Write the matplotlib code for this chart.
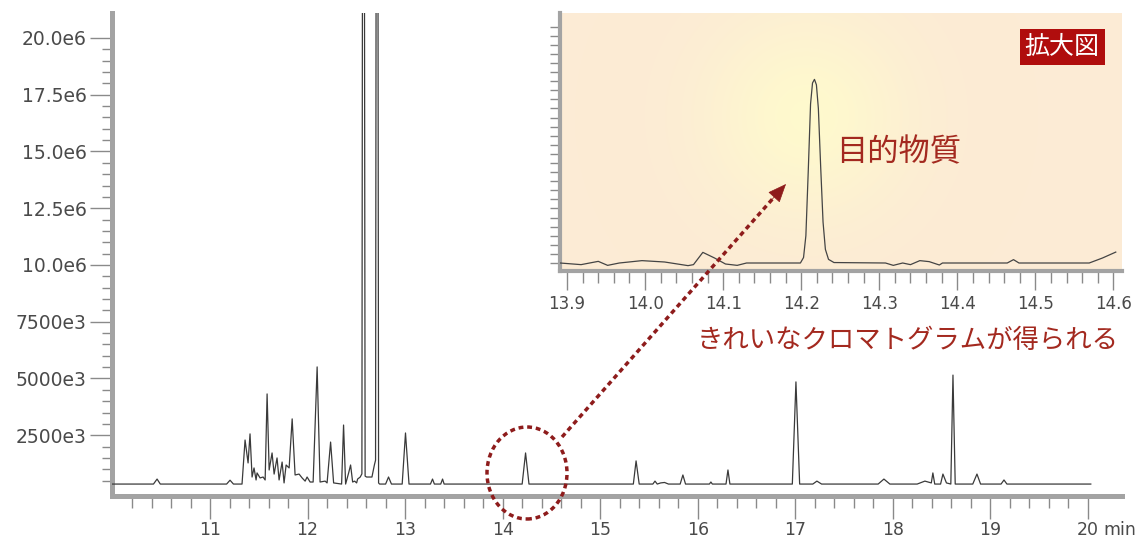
import numpy as np
import matplotlib
matplotlib.use("Agg")
import matplotlib.pyplot as plt
from matplotlib.patches import Ellipse, FancyArrowPatch
from matplotlib.lines import Line2D

plt.rcParams['font.family'] = ['DejaVu Sans', 'Noto Sans CJK JP']

# ---------------- data ----------------
# main chromatogram: retention time (min), intensity (x1e6 counts)
main_time = [10.00, 10.42, 10.457, 10.49, 11.17, 11.205, 11.24, 11.328, 11.359, 11.390,
             11.410, 11.431, 11.451, 11.472, 11.482, 11.513, 11.544, 11.565, 11.585, 11.606,
             11.636, 11.657, 11.687, 11.708, 11.739, 11.759, 11.780, 11.811, 11.842, 11.872,
             11.913, 11.944, 11.975, 11.995, 12.026, 12.057, 12.098, 12.128, 12.180, 12.200,
             12.236, 12.267, 12.349, 12.369, 12.390, 12.421, 12.441, 12.462, 12.482, 12.503,
             12.513, 12.540, 12.557, 12.572, 12.590, 12.605, 12.660, 12.685, 12.697, 12.712,
             12.728, 12.738, 12.80, 12.830,
             12.86, 12.97, 13.004, 13.04, 13.26, 13.281, 13.30, 13.365, 13.384, 13.40,
             14.20, 14.235, 14.27, 15.34, 15.368, 15.40, 15.54, 15.562, 15.585, 15.62,
             15.66, 15.70, 15.82, 15.848, 15.875, 16.12, 16.135, 16.15, 16.29, 16.310,
             16.33, 16.97, 17.007, 17.045, 17.18, 17.222, 17.27, 17.85, 17.909, 17.97,
             18.25, 18.329, 18.395, 18.411, 18.43, 18.49, 18.514, 18.55, 18.595, 18.617,
             18.64, 18.82, 18.863, 18.90, 19.11, 19.140, 19.17, 20.03]
main_int = [0.35, 0.35, 0.57, 0.35, 0.35, 0.52, 0.35, 0.35, 2.29, 1.28,
            2.56, 0.66, 1.06, 0.53, 0.84, 0.62, 0.66, 0.53, 4.32, 0.97,
            1.72, 0.79, 1.50, 0.53, 1.32, 0.40, 1.19, 1.06, 3.22, 0.75,
            0.79, 0.62, 0.48, 0.66, 0.44, 0.44, 5.51, 0.44, 0.48, 0.40,
            2.20, 0.40, 0.35, 2.95, 0.35, 0.84, 1.19, 0.44, 0.48, 0.40,
            0.57, 0.66, 0.80, 60.0, 0.70, 0.66, 0.66, 1.19, 1.40, 60.0,
            0.40, 0.35, 0.35, 0.66,
            0.35, 0.35, 2.60, 0.35, 0.35, 0.57, 0.35, 0.35, 0.57, 0.35,
            0.35, 1.72, 0.35, 0.35, 1.37, 0.35, 0.35, 0.48, 0.35, 0.40,
            0.42, 0.35, 0.35, 0.75, 0.35, 0.35, 0.44, 0.35, 0.35, 0.97,
            0.35, 0.35, 4.85, 0.35, 0.35, 0.48, 0.35, 0.35, 0.57, 0.35,
            0.35, 0.48, 0.40, 0.84, 0.35, 0.35, 0.79, 0.40, 0.35, 5.15,
            0.35, 0.35, 0.79, 0.35, 0.35, 0.53, 0.35, 0.35]

# zoomed window (arbitrary units)
zoom_time = [13.891, 13.918, 13.940, 13.952, 13.967, 13.996, 14.025, 14.055, 14.062, 14.074,
             14.089, 14.103, 14.118, 14.130, 14.199, 14.203, 14.206, 14.209, 14.212, 14.2145,
             14.217, 14.2195, 14.222, 14.225, 14.228, 14.231, 14.235, 14.242, 14.308, 14.318,
             14.330, 14.340, 14.352, 14.364, 14.377, 14.381, 14.464, 14.472, 14.479, 14.569,
             14.586, 14.603]
zoom_int = [0.0, -0.18, 0.18, -0.26, 0.0, 0.26, 0.11, -0.29, -0.18, 1.17,
            0.55, -0.11, -0.26, 0.0, 0.0, 0.6, 3.0, 10.0, 17.5, 19.8,
            20.2, 19.6, 17.0, 10.5, 4.5, 1.5, 0.4, 0.05, 0.0, -0.26,
            0.0, -0.18, 0.26, 0.15, -0.22, 0.0, 0.0, 0.37, 0.0, 0.0,
            0.55, 1.2]

y_major = [2.5e6, 5.0e6, 7.5e6, 10.0e6, 12.5e6, 15.0e6, 17.5e6, 20.0e6]
y_labels = ['2500e3', '5000e3', '7500e3', '10.0e6', '12.5e6', '15.0e6', '17.5e6', '20.0e6']
x_major = [11, 12, 13, 14, 15, 16, 17, 18, 19, 20]
x_labels = ['11', '12', '13', '14', '15', '16', '17', '18', '19', '20']
zx_major = [13.9, 14.0, 14.1, 14.2, 14.3, 14.4, 14.5, 14.6]
zx_labels = ['13.9', '14.0', '14.1', '14.2', '14.3', '14.4', '14.5', '14.6']

# ---------------- layout ----------------
W, H = 1137, 543
fig = plt.figure(figsize=(W / 100, H / 100), dpi=100)
fig.patch.set_facecolor('white')


def fx(x):
    return x / W


def fy(y):
    return 1 - y / H


def fp(x, y):
    return (fx(x), fy(y))


SPINE = '#a3a3a3'
TICK = '#8a8a8a'
LAB = '#4a4a4a'
RED = '#a3291f'
DOT = '#8e1c1c'

ax = fig.add_axes([fx(112.5), fy(495.5), (1122 - 112.5) / W, (495.5 - 13) / H])
ax.plot(main_time, np.array(main_int) * 1e6, color='#3a3a3a', lw=0.9, zorder=3)
ax.set_xlim(10.0, 20.35)
ax.set_ylim(-0.154e6, 21.1e6)
for s in ['top', 'right']:
    ax.spines[s].set_visible(False)
for s in ['left', 'bottom']:
    ax.spines[s].set_color(SPINE)
    ax.spines[s].set_linewidth(3.6)
    ax.spines[s].set_capstyle('projecting')
ax.set_yticks(y_major)
ax.set_yticklabels(y_labels)
ax.set_yticks(np.arange(0.5e6, 20.0e6, 0.5e6), minor=True)
ax.set_xticks(x_major)
ax.set_xticklabels(x_labels)
ax.set_xticks([v for v in np.round(np.arange(10.2, 19.81, 0.2), 1) if abs(v - round(v)) > 1e-6], minor=True)
ax.tick_params(axis='y', which='major', length=15.8, width=1.0, color=TICK, pad=3,
               labelsize=13.5, labelcolor=LAB)
ax.tick_params(axis='y', which='minor', length=7.2, width=1.0, color=TICK)
ax.tick_params(axis='x', which='major', length=16.5, width=1.0, color=TICK, pad=2.2,
               labelsize=12.5, labelcolor=LAB)
ax.tick_params(axis='x', which='minor', length=8.3, width=1.0, color=TICK)
ax.annotate('min', xy=(20.0, 0), xycoords=ax.get_xaxis_transform(),
            xytext=(11.0, -18.7), textcoords='offset points', ha='left', va='top',
            fontsize=12.5, color=LAB)
ax.set_facecolor('none')

# ---------------- inset ----------------
axi = fig.add_axes([fx(560), fy(271), (1122 - 560) / W, (271 - 13) / H])
axi.set_facecolor('#fcebd5')
gw, gh = 562, 258
gx, gy = np.meshgrid(np.arange(gw), np.arange(gh))
cx, cy = 806 - 560, 271 - 117
r2 = ((gx - cx) ** 2 + (gy - cy) ** 2) / (100.0 ** 2)
glow = np.zeros((gh, gw, 4))
glow[..., 0] = 1.0
glow[..., 1] = 0.99
glow[..., 2] = 0.80
glow[..., 3] = 0.85 * np.exp(-r2)
axi.imshow(glow, extent=(0, 1, 0, 1), transform=axi.transAxes, origin='lower',
           aspect='auto', zorder=0, interpolation='bilinear')
axi.plot(zoom_time, zoom_int, color='#444444', lw=0.9, zorder=3)
axi.set_xlim(13.891, 14.611)
axi.set_ylim(-0.88, 27.5)
for s in ['top', 'right']:
    axi.spines[s].set_visible(False)
for s in ['left', 'bottom']:
    axi.spines[s].set_color(SPINE)
    axi.spines[s].set_linewidth(3.0)
    axi.spines[s].set_capstyle('projecting')
axi.set_xticks(zx_major)
axi.set_xticklabels(zx_labels)
axi.set_xticks([v for v in np.round(np.arange(13.92, 14.59, 0.02), 2)
                if abs(v * 10 - round(v * 10)) > 1e-6], minor=True)
axi.set_yticks(np.arange(0, 27, 1))
axi.set_yticklabels([])
axi.tick_params(axis='y', which='major', length=7.2, width=1.0, color=TICK)
axi.tick_params(axis='x', which='major', length=13.7, width=1.0, color=TICK, pad=3.6,
                labelsize=12, labelcolor=LAB)
axi.tick_params(axis='x', which='minor', length=8.6, width=1.0, color=TICK)

# ---------------- annotations ----------------
jp = ['Noto Sans CJK JP', 'DejaVu Sans']
fig.text(fx(899), fy(152), '目的物質', ha='center', va='center', fontsize=22.5,
         color=RED, family=jp, zorder=10)
fig.text(fx(697), fy(341), 'きれいなクロマトグラムが得られる', ha='left', va='center',
         fontsize=19, color=RED, family=jp, zorder=10)
fig.text(fx(1062), fy(47.5), '拡大図', ha='center', va='center', fontsize=18,
         color='white', family=jp, zorder=10,
         bbox=dict(boxstyle='square,pad=0.2', fc='#b00d0d', ec='none'))

circ = Ellipse(fp(527, 473), 80 / W, 92 / H, transform=fig.transFigure, fill=False,
               ec=DOT, lw=2.5, ls=(0, (1.4, 1.1)), zorder=10)
fig.add_artist(circ)
x0, y0 = fp(562, 437)
x1, y1 = fp(776, 195)
fig.add_artist(Line2D([x0, x1], [y0, y1], transform=fig.transFigure, color=DOT,
                      lw=2.5, ls=(0, (1.4, 1.1)), zorder=10))
head = FancyArrowPatch(fp(772, 199.5), fp(786, 184), transform=fig.transFigure,
                       arrowstyle='-|>,head_length=1.2,head_width=0.5',
                       mutation_scale=10, color=DOT, lw=0.5, shrinkA=0, shrinkB=0,
                       zorder=11)
fig.add_artist(head)

fig.savefig('out.png', dpi=100)
